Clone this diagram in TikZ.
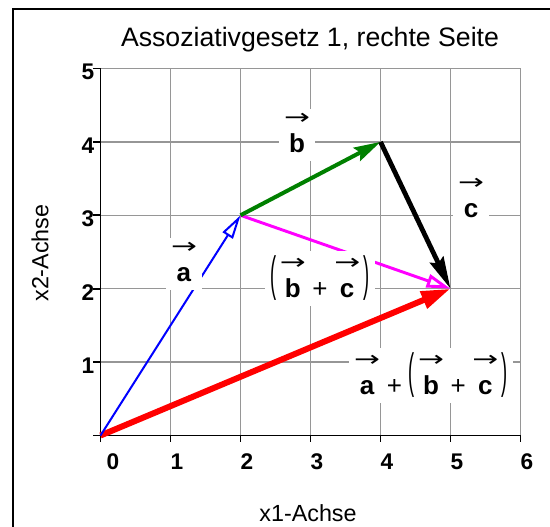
\documentclass[tikz,border=0pt]{standalone}
\usepackage{fontspec}
\setmainfont{Liberation Sans}
\newfontfamily\arrfont{DejaVu Sans}
\usepackage{graphicx}
\usetikzlibrary{arrows.meta}
\definecolor{vblue}{RGB}{0,0,255}
\definecolor{vgreen}{RGB}{0,128,0}
\definecolor{vred}{RGB}{255,0,0}
\definecolor{vmag}{RGB}{255,0,255}
\definecolor{vgrid}{RGB}{150,150,150}
\newcommand{\vecar}[1]{\vbox{\offinterlineskip\halign{\hfil##\hfil\cr\scalebox{1.45}[1]{\arrfont\fontsize{16}{19}\selectfont →}\cr\noalign{\kern6pt}\rule[-4pt]{0pt}{18.5pt}\textbf{#1}\cr}}}
\newcommand{\lparen}{\raisebox{5pt}{\scalebox{0.7}[1.85]{(}}\hspace{2.5pt}}
\newcommand{\rparen}{\hspace{2.5pt}\raisebox{5pt}{\scalebox{0.7}[1.85]{)}}}
\newcommand{\plusop}{\hspace{5pt}+\hspace{5pt}}
\begin{document}
\begin{tikzpicture}[x=0.75pt,y=-0.75pt,
  gridline/.style={draw=vgrid, line width=1.1pt},
  axisline/.style={draw=black, line width=1.3pt},
  ticklbl/.style={font=\fontsize{17}{20}\selectfont\bfseries, inner sep=0pt},
  axlbl/.style={font=\fontsize{17.5}{21}\selectfont, inner sep=0pt},
  veclbl/.style={fill=white, inner xsep=4pt, inner ysep=3pt, anchor=base, font=\fontsize{19.5}{23}\selectfont},
  vecA/.style={draw=vblue, line width=1.5pt, -{Triangle[length=18pt,width=9pt,fill=white]}},
  vecB/.style={draw=vgreen, line width=3pt, -{Stealth[length=20pt,width=11pt,inset=3pt]}},
  vecC/.style={draw=black, line width=3.6pt, -{Stealth[length=24pt,width=11pt,inset=3pt]}},
  vecBC/.style={draw=vmag, line width=2.2pt, -{Triangle[length=18pt,width=10pt,fill=white]}},
  vecABC/.style={draw=vred, line width=4.5pt, -{Triangle[length=22pt,width=13pt]}}]
\useasboundingbox (0,0) rectangle (550,526);
% frame
\draw[line width=1.5pt] (551,9) -- (13,9) -- (13,527);
% title
\node[font=\fontsize{20}{24}\selectfont, inner sep=0pt] (title) at (310,40) {Assoziativgesetz 1, rechte Seite};
% grid
\foreach \i in {1,...,6} \draw[gridline] ({100.5+70*\i},68.5) -- ({100.5+70*\i},435.5);
\foreach \j in {1,...,5} \draw[gridline] (100.5,{435.5-73.4*\j}) -- (520.5,{435.5-73.4*\j});
% axes
\draw[axisline] (93,435.5) -- (520.5,435.5);
\draw[axisline] (100.5,442) -- (100.5,68.5);
\foreach \i in {0,...,6} \draw[axisline] ({100.5+70*\i},435.5) -- ({100.5+70*\i},442);
\foreach \j in {0,...,5} \draw[axisline] (100.5,{435.5-73.4*\j}) -- (93,{435.5-73.4*\j});
% tick labels
\node[ticklbl] (tx0) at (113,462) {0};
\foreach \i in {1,...,6} \node[ticklbl] (tx\i) at ({107+70*\i},462) {\i};
\foreach \j in {1,...,5} \node[ticklbl] (ty\j) at (88,{439-73.4*\j}) {\j};
% axis labels
\node[axlbl] (xlab) at (308,513) {x1-Achse};
\node[axlbl, rotate=90] (ylab) at (40,253) {x2-Achse};
% points
\coordinate (O) at (100.5,435.5);
\coordinate (A) at (240.5,215.3);
\coordinate (B) at (380.5,141.9);
\coordinate (C) at (450.5,288.7);
% vectors
\draw[vecABC] (O) -- (C);
\draw[vecA] (O) -- (A);
\draw[vecBC] (A) -- (C);
\draw[vecB] (A) -- (B);
\draw[vecC] (B) -- (C);
% labels
\node[veclbl] (la) at (184,281) {\vecar{a}};
\node[veclbl] (lb) at (297,152) {\vecar{b}};
\node[veclbl] (lc) at (471,217) {\vecar{c}};
\node[veclbl] (lbc) at (320,297) {\lparen\vecar{b}\plusop\vecar{c}\rparen};
\node[veclbl] (labc) at (431,394) {\vecar{a}\plusop\lparen\vecar{b}\plusop\vecar{c}\rparen};
\end{tikzpicture}
\end{document}
